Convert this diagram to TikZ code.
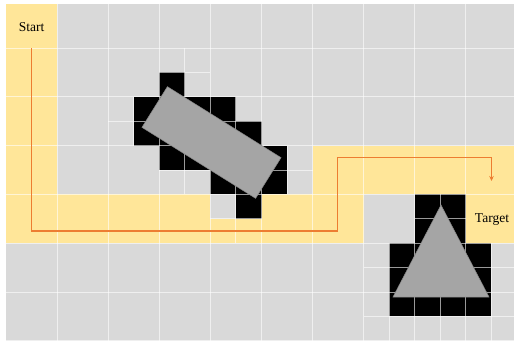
\documentclass[tikz,border=0pt]{standalone}
\usepackage{fontspec}
\setmainfont{Liberation Serif}
\usetikzlibrary{arrows.meta}
\usetikzlibrary{calc}

\definecolor{cellgray}{HTML}{D9D9D9}
\definecolor{pathyellow}{HTML}{FFE699}
\definecolor{shapegray}{HTML}{A5A5A5}
\definecolor{routeorange}{HTML}{ED7D31}

% Cell size and grid origin (1 unit = 1 pixel)
\def\cw{51.1}
\def\ch{48.8}
\def\xo{6}
\def\yo{-0.8}

% Fill one full cell / one quarter cell
\newcommand{\bigcell}[3]{\fill[#3] ({\xo+#1*\cw},{\yo+#2*\ch}) rectangle ++(\cw,\ch);}
\newcommand{\halfcell}[3]{\fill[#3] ({\xo+#1*\cw/2},{\yo+#2*\ch/2}) rectangle ++(\cw/2,\ch/2);}

\begin{document}
\begin{tikzpicture}[x=1pt, y=-1pt,
    gridline/.style={draw=white, line width=1pt, opacity=0.6},
    obstacle/.style={fill=shapegray, draw=shapegray!80!black, line width=0.5pt},
    route/.style={draw=routeorange, line width=1.7pt, -{Stealth[length=5pt, width=4.5pt]}},
    celltext/.style={font=\fontsize{13.5}{16}\selectfont, inner sep=0pt}]

        \useasboundingbox (0,0) rectangle (514,340);
        \begin{scope}
          \clip (6,4) rectangle (514,340);

          % Free cells
          \fill[cellgray] (0,0) rectangle (520,345);

          % Cells on the route
          \foreach \c/\r in {0/0,0/1,0/2,0/3,0/4,1/4,2/4,3/4,5/4,6/4,6/3,7/3,8/3,9/3,9/4} {
            \bigcell{\c}{\r}{pathyellow}
          }
          \foreach \hx/\hy in {8/9,9/9} {
            \halfcell{\hx}{\hy}{pathyellow}
          }

          % Occupied quarter cells round the bar
          \foreach \hx/\hy in {6/3,5/4,6/4,7/4,8/4,5/5,6/5,7/5,8/5,9/5,
                               6/6,7/6,8/6,9/6,10/6,8/7,9/7,10/7,9/8} {
            \halfcell{\hx}{\hy}{black}
          }

          % Occupied quarter cells round the triangle
          \foreach \hx/\hy in {16/8,17/8,16/9,17/9,15/10,16/10,17/10,18/10,
                               15/11,16/11,17/11,18/11,15/12,16/12,17/12,18/12} {
            \halfcell{\hx}{\hy}{black}
          }

          % Coarse grid
          \foreach \c in {1,...,10} {
            \draw[gridline] ({\xo+\c*\cw},0) -- ++(0,345);
          }
          \foreach \r in {1,...,7} {
            \draw[gridline] (0,{\yo+\r*\ch}) -- ++(520,0);
          }

          % Split cells
          \foreach \c/\r in {3/1,2/2,3/2,4/2,3/3,4/3,5/3,4/4,8/4,7/5,8/5,9/5,7/6,8/6,9/6} {
            \draw[gridline] ({\xo+(\c+0.5)*\cw},{\yo+\r*\ch}) -- ++(0,\ch);
            \draw[gridline] ({\xo+\c*\cw},{\yo+(\r+0.5)*\ch}) -- ++(\cw,0);
          }
        \end{scope}

        % Obstacles
        \node[obstacle, inner sep=0pt, minimum width=134pt, minimum height=48pt, rotate=-32] (bar) at (211.5,142.5) {};
        \coordinate (apex) at (441,205);
        \coordinate (baseleft) at (393,297);
        \coordinate (baseright) at (489,297);
        \draw[obstacle] (apex) -- (baseleft) -- (baseright) -- cycle;

        % Start and target
        \node[celltext] (start) at (31.5,27) {Start};
        \node[celltext] (target) at (492,220) {Target};

        % Route corners
        \coordinate (p0) at (31.5,48);
        \coordinate (p1) at (31.5,231);
        \coordinate (p2) at (337.5,231);
        \coordinate (p3) at (337.5,157.5);
        \coordinate (p4) at (491.5,157.5);
        \coordinate (p5) at (491.5,181);
        \draw[route] (p0) -- (p1) -- (p2) -- (p3) -- (p4) -- (p5);

      \end{tikzpicture}
\end{document}
